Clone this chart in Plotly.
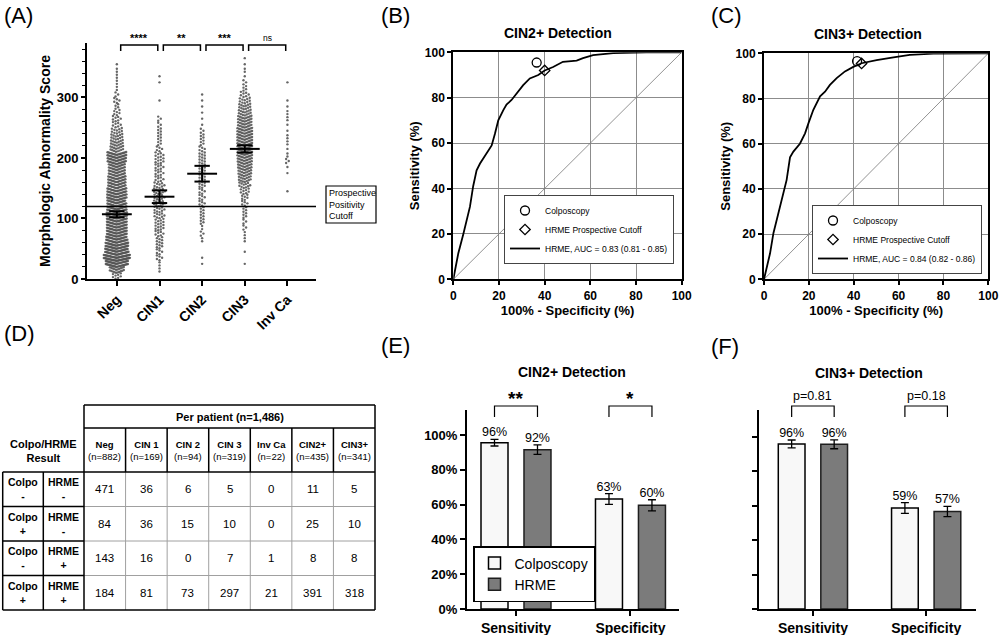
import math
import plotly.graph_objects as go

W, H = 1000, 635
FONT = "Liberation Sans, Arial, Helvetica, sans-serif"

# ---------------- Panel A data ----------------
groups = ["Neg", "CIN1", "CIN2", "CIN3", "Inv Ca"]
score_bin_width = 10  # counts below are per 10-point score bin, starting at 0
neg_bin_counts = [8, 20, 50, 70, 55, 52, 45, 40, 40, 40, 42, 38, 35, 38, 36, 30, 30, 26,
                  26, 34, 36, 16, 14, 12, 10, 7, 7, 6, 4, 5, 3, 2, 2, 2, 2, 1]
cin1_bin_counts = [0, 2, 2, 5, 5, 6, 6, 7, 8, 8, 9, 9, 11, 9, 11, 9, 7, 7, 7, 8, 7, 5,
                   4, 4, 4, 3, 3, 0, 0, 1, 0, 0, 1, 1]
cin2_bin_counts = [0, 0, 1, 1, 0, 0, 2, 3, 2, 4, 4, 4, 5, 5, 5, 6, 6, 6, 6, 6, 6, 5,
                   4, 4, 3, 1, 1, 1, 1, 1, 1]
cin3_bin_counts = [0, 0, 1, 0, 1, 0, 2, 2, 3, 3, 4, 4, 5, 6, 8, 11, 14, 16, 18, 20, 22,
                   22, 22, 22, 22, 18, 18, 14, 12, 10, 7, 4, 3, 1, 2, 1, 1]
invca_bin_counts = [0, 0, 0, 0, 0, 0, 0, 0, 0, 0, 0, 0, 0, 0, 1, 0, 0, 1, 1, 3, 2, 1,
                    2, 2, 1, 1, 2, 2, 1, 1, 0, 0, 1]
group_bin_counts = [neg_bin_counts, cin1_bin_counts, cin2_bin_counts, cin3_bin_counts, invca_bin_counts]
group_means = [107, 136, 174, 215, None]
group_sems = [5, 10.5, 13, 6, None]
cutoff_score = 120
pairwise_sig = ["****", "**", "***", "ns"]

# ---------------- Panel B / C data ----------------
roc_b_fpr = [0, 1, 2.2, 4.4, 5.5, 7.3, 8.7, 10.2, 11.7, 14.6, 16.8, 18.2, 19.7, 21.9, 23.3,
             25.5, 27.7, 30.6, 33.5, 37.2, 40, 43.7, 48, 54, 56.8, 61.2, 70, 84.5, 100]
roc_b_tpr = [0, 5, 11.5, 20, 25, 32, 41, 48, 51, 55.5, 59, 64, 70, 74.5, 77,
             79, 82, 85.5, 88.5, 90, 92, 93.5, 95.8, 96.3, 97.4, 98.8, 99.6, 100, 100]
roc_b_auc = (0.83, 0.81, 0.85)
colpo_b = (36.5, 95.5)
hrme_cut_b = (40.0, 92.0)

roc_c_fpr = [0, 2.7, 4.2, 6.4, 8.6, 10.1, 11.6, 13.1, 16, 18.3, 19.8, 22, 25, 27.2, 29.4,
             32.4, 36.1, 39.8, 43.5, 50.2, 57.7, 65, 75.5, 100]
roc_c_tpr = [0, 11.5, 20.4, 29, 38, 44, 54, 56.5, 60, 64.6, 69, 75, 81, 83, 86,
             89, 92, 94, 95.6, 97, 98.2, 99.3, 99.9, 100]
roc_c_auc = (0.84, 0.82, 0.86)
colpo_c = (41.5, 96.5)
hrme_cut_c = (43.5, 95.5)
chance_line = [0, 100]

# ---------------- Panel D data ----------------
table_cols = ["Neg", "CIN 1", "CIN 2", "CIN 3", "Inv Ca", "CIN2+", "CIN3+"]
table_n = [882, 169, 94, 319, 22, 435, 341]
colpo_signs = ["-", "+", "-", "+"]
hrme_signs = ["-", "-", "+", "+"]
table_counts = [[471, 36, 6, 5, 0, 11, 5],
                [84, 36, 15, 10, 0, 25, 10],
                [143, 16, 0, 7, 1, 8, 8],
                [184, 81, 73, 297, 21, 391, 318]]

# ---------------- Panel E / F data ----------------
metrics = ["Sensitivity", "Specificity"]
pct_ticks = [0, 20, 40, 60, 80, 100]
e_colpo = [95.6, 63.2]
e_colpo_err = [1.9, 3.1]
e_hrme = [91.6, 59.6]
e_hrme_err = [2.7, 3.2]
e_sig = ["**", "*"]
f_colpo = [95.8, 58.6]
f_colpo_err = [2.3, 3.1]
f_hrme = [95.6, 56.6]
f_hrme_err = [2.6, 3.0]
f_sig = ["p=0.81", "p=0.18"]


def PX(x):
    return x / W


def PY(y):
    return 1 - y / H


def swarm(center, counts, px_per_unit, rows=2):
    xs, ys = [], []
    for b, n in enumerate(counts):
        if n == 0:
            continue
        k = math.ceil(n / rows)
        if k > 1:
            width_px = min(2.6 * (k - 1), 4.4 * math.sqrt(k))
            dx = width_px / (k - 1) / px_per_unit
        else:
            dx = 0
        order = sorted(range(k), key=lambda s: (abs(s - (k - 1) / 2), s))
        for i in range(n):
            slot = order[i % k]
            xs.append(center + (slot - (k - 1) / 2) * dx)
            ys.append(b * score_bin_width + score_bin_width * (i + 0.5) / n)
    return xs, ys


fig = go.Figure()

# ---------------- Panel A ----------------
a_dom_x = [PX(87), PX(316)]
a_dom_y = [PY(279), PY(43)]
a_range_x = [-0.70, 4.67]
a_px_per_unit = (316 - 87) / (a_range_x[1] - a_range_x[0])
for gi, counts in enumerate(group_bin_counts):
    xs, ys = swarm(gi, counts, a_px_per_unit)
    fig.add_trace(go.Scatter(x=xs, y=ys, mode="markers", xaxis="x", yaxis="y",
                             marker=dict(size=2.4, color="#555555", opacity=0.9,
                                         line=dict(width=0)),
                             showlegend=False, hoverinfo="skip"))
mx, my = [], []
for gi, (m, s) in enumerate(zip(group_means, group_sems)):
    if m is None:
        continue
    mx += [gi - 0.35, gi + 0.35, None, gi - 0.18, gi + 0.18, None,
           gi - 0.18, gi + 0.18, None, gi, gi, None]
    my += [m, m, None, m + s, m + s, None, m - s, m - s, None, m - s, m + s, None]
fig.add_trace(go.Scatter(x=mx, y=my, mode="lines", xaxis="x", yaxis="y",
                         line=dict(color="black", width=2), showlegend=False, hoverinfo="skip"))

shapes = []
annotations = []
shapes.append(dict(type="line", xref="x domain", yref="y", x0=0, x1=1, y0=cutoff_score,
                   y1=cutoff_score, line=dict(color="black", width=1.5)))
shapes.append(dict(type="rect", xref="paper", yref="paper", x0=PX(326), x1=PX(376),
                   y0=PY(223), y1=PY(186), line=dict(color="black", width=1.2),
                   fillcolor="white"))
annotations.append(dict(text="Prospective<br>Positivity<br>Cutoff", xref="paper", yref="paper",
                        x=PX(327), y=PY(204.5), xanchor="left", yanchor="middle", align="left",
                        showarrow=False, font=dict(size=9, color="black")))
for i, lab in enumerate(pairwise_sig):
    x0, x1 = i + 0.09, i + 0.96
    shapes.append(dict(type="path", xref="x", yref="paper",
                       path=f"M {x0},{PY(51)} L {x0},{PY(45)} L {x1},{PY(45)} L {x1},{PY(51)}",
                       line=dict(color="black", width=1.5)))
    annotations.append(dict(text=lab, xref="x", yref="paper", x=(x0 + x1) / 2, y=PY(38),
                            xanchor="center", yanchor="middle", showarrow=False,
                            font=dict(size=11 if lab != "ns" else 8.5,
                                      weight="bold" if lab != "ns" else "normal")))

# ---------------- Panels B and C ----------------
def add_roc(xa, ya, fpr, tpr, auc, colpo, cut, legend):
    fig.add_trace(go.Scatter(x=chance_line, y=chance_line, mode="lines", xaxis=xa, yaxis=ya,
                             line=dict(color="#777777", width=0.8), showlegend=False,
                             hoverinfo="skip"))
    fig.add_trace(go.Scatter(x=fpr, y=tpr, mode="lines", xaxis=xa, yaxis=ya,
                             line=dict(color="black", width=1.8), legend=legend, legendrank=3,
                             name=f"HRME, AUC = {auc[0]:.2f} ({auc[1]:.2f} - {auc[2]:.2f})"))
    fig.add_trace(go.Scatter(x=[colpo[0]], y=[colpo[1]], mode="markers", xaxis=xa, yaxis=ya,
                             marker=dict(symbol="circle-open", size=9, color="black",
                                         line=dict(width=1.3)),
                             legend=legend, legendrank=1, name="Colposcopy"))
    fig.add_trace(go.Scatter(x=[cut[0]], y=[cut[1]], mode="markers", xaxis=xa, yaxis=ya,
                             marker=dict(symbol="diamond-open", size=8, color="black",
                                         line=dict(width=1.3)),
                             legend=legend, legendrank=2, name="HRME Prospective Cutoff"))


add_roc("x2", "y2", roc_b_fpr, roc_b_tpr, roc_b_auc, colpo_b, hrme_cut_b, "legend2")
add_roc("x3", "y3", roc_c_fpr, roc_c_tpr, roc_c_auc, colpo_c, hrme_cut_c, "legend3")

# ---------------- Panels E and F ----------------
bargap = 0.249
bar_half_offset = (1 - bargap) / 4
xi = list(range(len(metrics)))


def add_bars(xa, ya, colpo, colpo_err, hrme, hrme_err, showleg):
    fig.add_trace(go.Bar(x=xi, y=colpo, xaxis=xa, yaxis=ya, name="Colposcopy", offsetgroup="c",
                         error_y=dict(type="data", array=colpo_err, color="black",
                                      thickness=1.3, width=4),
                         marker=dict(color="#f8f8f8", line=dict(color="black", width=1.5)),
                         showlegend=showleg, legend="legend"))
    fig.add_trace(go.Bar(x=xi, y=hrme, xaxis=xa, yaxis=ya, name="HRME", offsetgroup="h",
                         error_y=dict(type="data", array=hrme_err, color="black",
                                      thickness=1.3, width=4),
                         marker=dict(color="#7b7b7b", line=dict(color="#1e1e1e", width=1.5)),
                         showlegend=showleg, legend="legend"))
    tx = [i - bar_half_offset for i in xi] + [i + bar_half_offset for i in xi]
    ty = [v + e for v, e in zip(colpo, colpo_err)] + [v + e for v, e in zip(hrme, hrme_err)]
    tt = [f"{v:.0f}%" for v in colpo] + [f"{v:.0f}%" for v in hrme]
    fig.add_trace(go.Scatter(x=tx, y=ty, text=tt, mode="text", textposition="top center",
                             xaxis=xa, yaxis=ya, textfont=dict(size=12.5, color="black"),
                             showlegend=False, cliponaxis=False, hoverinfo="skip"))


add_bars("x4", "y4", e_colpo, e_colpo_err, e_hrme, e_hrme_err, True)
add_bars("x5", "y5", f_colpo, f_colpo_err, f_hrme, f_hrme_err, False)

for xa, sigs, is_p in (("x4", e_sig, False), ("x5", f_sig, True)):
    for i, lab in enumerate(sigs):
        x0, x1 = i - bar_half_offset, i + bar_half_offset
        shapes.append(dict(type="path", xref=xa, yref="paper",
                           path=f"M {x0},{PY(417)} L {x0},{PY(406)} L {x1},{PY(406)} L {x1},{PY(417)}",
                           line=dict(color="black", width=1.2)))
        annotations.append(dict(text=lab, xref=xa, yref="paper", x=i, y=PY(396 if is_p else 398),
                                xanchor="center", yanchor="middle", showarrow=False,
                                font=dict(size=12.5 if is_p else 19,
                                          weight="normal" if is_p else "bold")))

# ---------------- Panel D (table) ----------------
left_edges = [2.7, 43.3, 84.0]
col_w = (375.0 - 84.0) / len(table_cols)
col_edges = [84.0 + col_w * j for j in range(len(table_cols) + 1)]
hdr_top, hdr_mid, hdr_bot = 405.0, 428.0, 472.0
row_h = (610.0 - 472.0) / len(table_counts)
row_edges = [hdr_bot + row_h * r for r in range(len(table_counts) + 1)]
BLACK = dict(color="black", width=1.5)
GRAY = dict(color="#a0a0a0", width=1)


def pline(x0, y0, x1, y1, line):
    shapes.append(dict(type="line", xref="paper", yref="paper", x0=PX(x0), y0=PY(y0),
                       x1=PX(x1), y1=PY(y1), line=line))


for j in range(1, len(table_cols)):
    pline(col_edges[j], row_edges[0], col_edges[j], row_edges[-1], GRAY)
for r in range(1, len(table_counts)):
    pline(col_edges[0], row_edges[r], col_edges[-1], row_edges[r], GRAY)
pline(col_edges[0], hdr_top, col_edges[-1], hdr_top, BLACK)
pline(col_edges[0], hdr_mid, col_edges[-1], hdr_mid, BLACK)
pline(left_edges[0], hdr_bot, col_edges[-1], hdr_bot, BLACK)
pline(left_edges[0], row_edges[-1], col_edges[-1], row_edges[-1], BLACK)
pline(col_edges[-1], hdr_top, col_edges[-1], row_edges[-1], BLACK)
pline(col_edges[0], hdr_top, col_edges[0], row_edges[-1], BLACK)
for j in range(1, len(table_cols)):
    pline(col_edges[j], hdr_mid, col_edges[j], hdr_bot, BLACK)
for xl in left_edges[:2]:
    pline(xl, row_edges[0], xl, row_edges[-1], BLACK)
for r in range(1, len(table_counts)):
    pline(left_edges[0], row_edges[r], left_edges[-1], row_edges[r], BLACK)


def pann(text, x, y, size, bold=False, **kw):
    annotations.append(dict(text=text, xref="paper", yref="paper", x=PX(x), y=PY(y),
                            xanchor="center", yanchor="middle", showarrow=False,
                            font=dict(size=size, color="black", weight="bold" if bold else "normal"),
                            **kw))


pann(f"Per patient (n={sum(table_n[:5]):,})", (col_edges[0] + col_edges[-1]) / 2,
     (hdr_top + hdr_mid) / 2, 11, True)
pann("Colpo/HRME<br>Result", (left_edges[0] + left_edges[-1]) / 2, 451, 11, True)
for j, (c, n) in enumerate(zip(table_cols, table_n)):
    pann(f"<b>{c}</b><br>(n={n})", (col_edges[j] + col_edges[j + 1]) / 2,
         (hdr_mid + hdr_bot) / 2, 9.5, False)
for r, row in enumerate(table_counts):
    yc = (row_edges[r] + row_edges[r + 1]) / 2
    pann(f"Colpo<br>{colpo_signs[r]}", (left_edges[0] + left_edges[1]) / 2, yc, 10.5, True)
    pann(f"HRME<br>{hrme_signs[r]}", (left_edges[1] + left_edges[2]) / 2, yc, 10.5, True)
    for j, v in enumerate(row):
        pann(str(v), (col_edges[j] + col_edges[j + 1]) / 2, yc, 11.5)

# ---------------- Titles & panel labels ----------------
for lab, x, y in (("(A)", 2, 1), ("(B)", 379, 1), ("(C)", 709, 1), ("(D)", 2, 319),
                  ("(E)", 379, 331), ("(F)", 709, 332)):
    annotations.append(dict(text=lab, xref="paper", yref="paper", x=PX(x), y=PY(y),
                            xanchor="left", yanchor="top", showarrow=False,
                            font=dict(size=22, color="black")))
for t, x, y in (("CIN2+ Detection", 558, 33), ("CIN3+ Detection", 868, 34),
                ("CIN2+ Detection", 572, 372), ("CIN3+ Detection", 869, 373)):
    pann(t, x, y, 14, True)

# ---------------- Axes ----------------
tickbold = dict(weight="bold", color="black")
roc_axis = dict(range=[0, 100], dtick=20, tick0=0, showgrid=True, gridcolor="#8c8c8c",
                gridwidth=1, showline=True, mirror=True, linecolor="black", linewidth=2,
                ticks="outside", ticklen=4, tickwidth=1.5, tickcolor="black",
                tickfont=dict(size=12, **tickbold), zeroline=False, automargin=False)
xt = dict(text="100% - Specificity (%)", font=dict(size=13, **tickbold), standoff=0)
yt = dict(text="Sensitivity (%)", font=dict(size=13, **tickbold), standoff=2)
legend_roc = dict(xanchor="right", yanchor="bottom", bgcolor="white",
                  bordercolor="#444444", borderwidth=1,
                  font=dict(size=8.5), tracegroupgap=0, itemwidth=30)

fig.update_layout(
    template="none",
    width=W, height=H, margin=dict(l=0, r=0, t=0, b=0, pad=0, autoexpand=False),
    autosize=False,
    paper_bgcolor="white", plot_bgcolor="white",
    font=dict(family=FONT, color="black"),
    barmode="group", bargap=bargap, bargroupgap=0.372,
    xaxis=dict(domain=a_dom_x, anchor="y", range=a_range_x, tickmode="array",
               tickvals=list(range(len(groups))), ticktext=groups, tickangle=-45,
               showline=True, linecolor="black", linewidth=2, ticks="outside", ticklen=5,
               tickwidth=1.5, tickcolor="black", tickfont=dict(size=14, **tickbold),
               showgrid=False, zeroline=False, automargin=False),
    yaxis=dict(domain=a_dom_y, anchor="x", range=[0, 390], tick0=0, dtick=100,
               showline=True, linecolor="black", linewidth=2, ticks="outside", ticklen=4,
               tickwidth=1.5, tickcolor="black", tickfont=dict(size=13, **tickbold),
               minor=dict(dtick=20, ticklen=3, tickwidth=1.2, ticks="outside",
                          tickcolor="black", showgrid=False),
               showgrid=False, zeroline=False, automargin=False,
               title=dict(text="Morphologic Abnormality Score",
                          font=dict(size=14, **tickbold), standoff=3)),
    xaxis2=dict(domain=[PX(453.3), PX(681.7)], anchor="y2", title=xt, **roc_axis),
    yaxis2=dict(domain=[PY(279.3), PY(52.3)], anchor="x2", title=yt, **roc_axis),
    xaxis3=dict(domain=[PX(764), PX(988.3)], anchor="y3", title=xt, **roc_axis),
    yaxis3=dict(domain=[PY(279.3), PY(53.3)], anchor="x3", title=yt, **roc_axis),
    xaxis4=dict(domain=[PX(467), PX(679)], anchor="y4", range=[-0.428, 1.424],
                tickmode="array", tickvals=xi, ticktext=metrics, showline=True,
                linecolor="black", linewidth=2, ticks="outside", ticklen=5, tickwidth=1.5,
                tickcolor="black", tickfont=dict(size=14, **tickbold), showgrid=False,
                zeroline=False, automargin=False),
    yaxis4=dict(domain=[PY(609), PY(410)], anchor="x4", range=[0, 114.4],
                tickmode="array", tickvals=pct_ticks, ticktext=[f"{v}%" for v in pct_ticks],
                showline=True, linecolor="black", linewidth=2, ticks="outside", ticklen=5,
                tickwidth=1.5, tickcolor="black", tickfont=dict(size=13, **tickbold),
                showgrid=False, zeroline=False, automargin=False),
    xaxis5=dict(domain=[PX(759), PX(976)], anchor="y5", range=[-0.476, 1.44],
                tickmode="array", tickvals=xi, ticktext=metrics, showline=True,
                linecolor="black", linewidth=2, ticks="outside", ticklen=5, tickwidth=1.5,
                tickcolor="black", tickfont=dict(size=14, **tickbold), showgrid=False,
                zeroline=False, automargin=False),
    yaxis5=dict(domain=[PY(609), PY(410)], anchor="x5", range=[0, 115.5],
                tickmode="array", tickvals=pct_ticks, showticklabels=False,
                showline=True, linecolor="black", linewidth=2, ticks="outside", ticklen=5,
                tickwidth=1.5, tickcolor="black", showgrid=False, zeroline=False,
                automargin=False),
    legend=dict(x=PX(473), y=PY(602), xanchor="left", yanchor="bottom", bgcolor="white",
                bordercolor="black", borderwidth=1.5, font=dict(size=14), tracegroupgap=0),
    legend2=dict(x=PX(674), y=PY(264), **legend_roc),
    legend3=dict(x=PX(982), y=PY(274), **legend_roc),
    shapes=shapes,
    annotations=annotations,
)

fig.write_html("out.html", config={"displayModeBar": False},
               post_script="document.body.style.margin='0';"
               "document.body.style.overflow='hidden';")
